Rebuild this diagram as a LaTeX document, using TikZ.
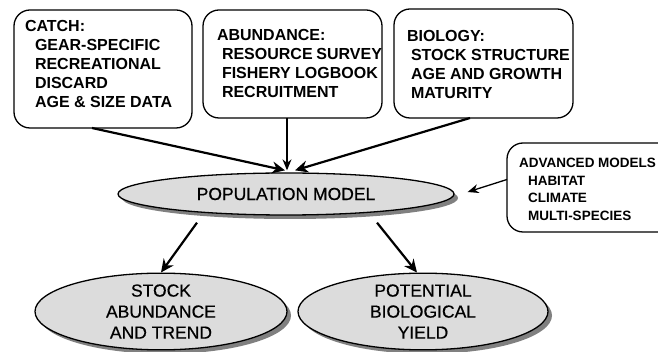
\documentclass[tikz,border=0pt]{standalone}
\usepackage{fontspec}
\setmainfont{Liberation Sans}
\newfontfamily\ellfont[FakeBold=0.6]{Liberation Sans}
\usetikzlibrary{shapes.geometric,arrows.meta,shadows,calc}
\definecolor{ellfill}{HTML}{DCDCDC}
\definecolor{shadowgray}{HTML}{808080}
% #1 width, #2 height, #3 font size, #4 line spacing, #5 first baseline depth, #6 lines
\newcommand\bxtext[6]{\parbox[c][#2][t]{#1}{\fontsize{#3}{#4}\bfseries\selectfont\rule{0pt}{#5}#6}}
\tikzset{
  infobox/.style={draw, line width=1.3pt, rounded corners=16pt, inner sep=0pt, outer sep=0pt, anchor=north west},
  ell/.style={ellipse, draw, line width=1.3pt, fill=ellfill, inner sep=0pt,
    drop shadow={shadow xshift=4pt, shadow yshift=-4pt, fill=shadowgray, opacity=1},
    font=\ellfont\fontsize{17.5}{21}\selectfont, align=center},
  thickarrow/.style={line width=2.2pt, -{Stealth[length=13pt,width=12pt]}},
  thinarrow/.style={line width=1.3pt, -{Stealth[length=11pt,width=9pt]}}
}
\begin{document}
\begin{tikzpicture}[x=1pt,y=-1pt]
\useasboundingbox (0,0) rectangle (658,352);
\clip (0,0) rectangle (658,352);
\fill[white] (0,0) rectangle (658,352);
\node[infobox] (catch) at (14,10) {\bxtext{178pt}{118pt}{16pt}{19pt}{22pt}{%
\hspace*{11pt}CATCH:\\
\hspace*{21pt}GEAR-SPECIFIC\\
\hspace*{21pt}RECREATIONAL\\
\hspace*{21pt}DISCARD\\
\hspace*{21pt}AGE \& SIZE DATA}};
\node[infobox] (abund) at (203,10) {\bxtext{179pt}{108pt}{16pt}{18.7pt}{31pt}{%
\hspace*{14pt}ABUNDANCE:\\
\hspace*{19pt}RESOURCE SURVEY\\
\hspace*{19pt}FISHERY LOGBOOK\\
\hspace*{19pt}RECRUITMENT}};
\node[infobox] (bio) at (394,9) {\bxtext{179pt}{109pt}{16pt}{19pt}{33pt}{%
\hspace*{13pt}BIOLOGY:\\
\hspace*{17pt}STOCK STRUCTURE\\
\hspace*{17pt}AGE AND GROWTH\\
\hspace*{17pt}MATURITY}};
\node[infobox] (adv) at (507,143) {\bxtext{200pt}{89pt}{13.5pt}{17.4pt}{25pt}{%
\hspace*{12pt}ADVANCED MODELS\\
\hspace*{21pt}HABITAT\\
\hspace*{21pt}CLIMATE\\
\hspace*{21pt}MULTI-SPECIES}};
\node[ell, minimum width=336pt, minimum height=42pt] (pop) at (286,194) {POPULATION MODEL};
\node[ell, minimum width=252pt, minimum height=73pt] (stock) at (161,311.5) {STOCK\\ABUNDANCE\\AND TREND};
\node[ell, minimum width=250pt, minimum height=73pt] (pot) at (423,311.5) {POTENTIAL\\BIOLOGICAL\\YIELD};
\draw[thickarrow] ($(catch.south west)+(78,0)$) -- ($(pop.north)+(-1,-2)$);
\draw[thinarrow] ($(abund.south west)+(84,0)$) -- ($(pop.north)+(1,-2)$);
\draw[thickarrow] ($(bio.south west)+(76,0)$) -- ($(pop.north)+(9,-2)$);
\draw[thickarrow] ($(pop.south)+(-89,7)$) -- (stock.north);
\draw[thickarrow] ($(pop.south)+(91,7)$) -- ($(pot.north)+(-6,0)$);
\draw[thinarrow] ($(adv.west)+(0,-8)$) -- ($(pop.east)+(13,-2)$);
\end{tikzpicture}
\end{document}
